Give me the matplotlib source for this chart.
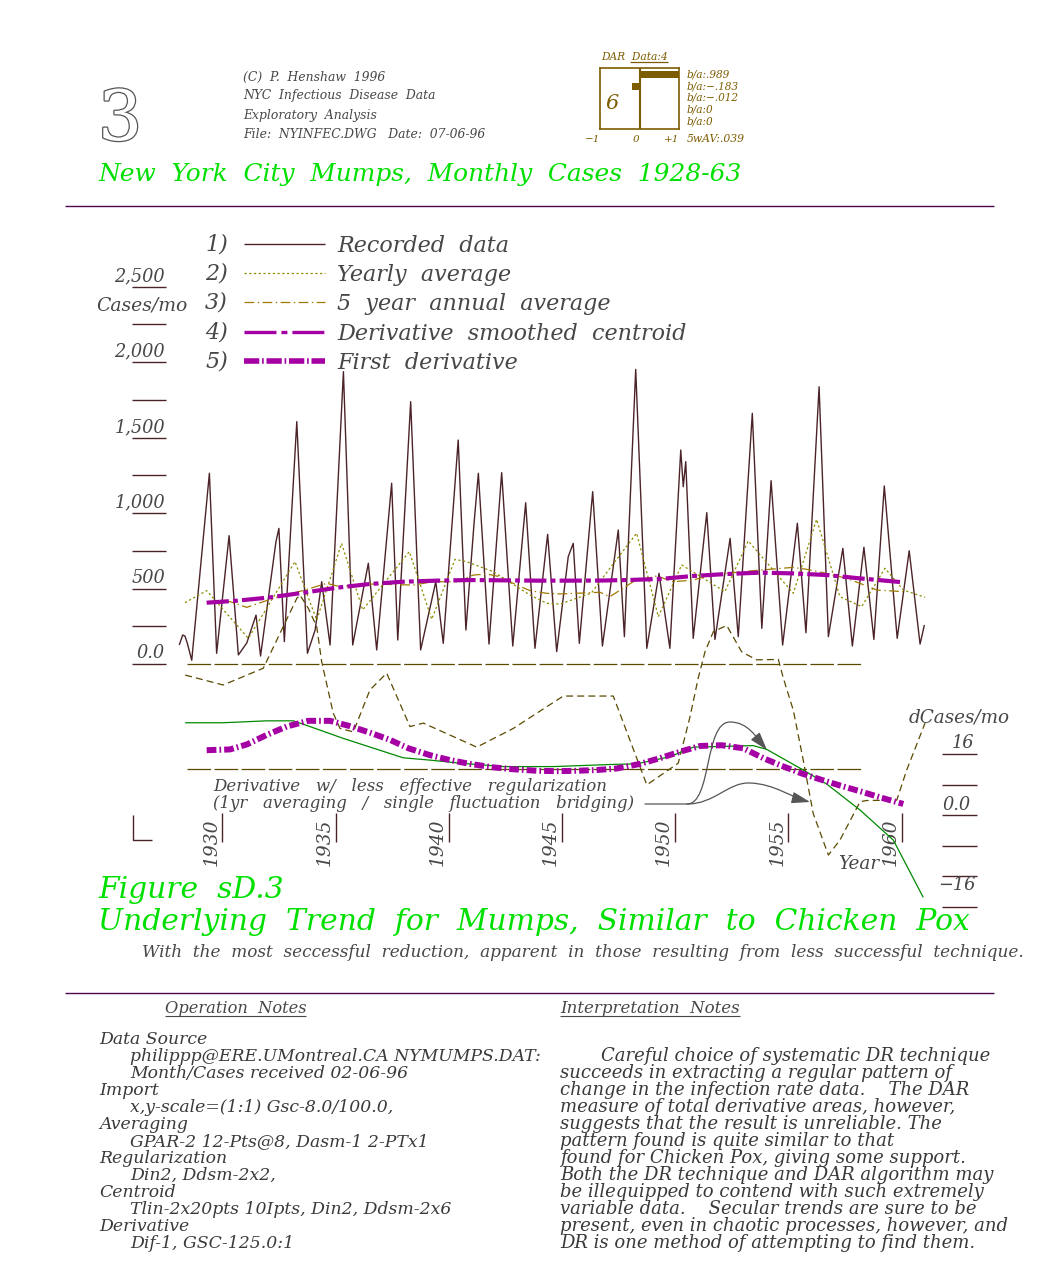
"""NYC mumps, monthly cases 1928-63: recorded series, yearly / 5-yr averages, smoothed
centroid and derivative curves, laid out like the CAD sheet (fig. sD.3, P. Henshaw 1996)."""
import matplotlib
matplotlib.use("Agg")
import matplotlib.pyplot as plt
import matplotlib.patheffects as pe
from matplotlib.patches import FancyArrowPatch
from matplotlib.path import Path
from matplotlib.transforms import Affine2D, blended_transform_factory, offset_copy

# ---- data --------------------------------------------------------------------------
# 1) recorded monthly cases: troughs, peaks and visible shoulders
rec_year = [1928.10, 1928.25, 1928.35, 1928.45, 1928.65, 1929.43, 1929.75, 1930.30, 1930.71,
            1931.08, 1931.49, 1931.69, 1932.37, 1932.50, 1932.74, 1933.29, 1933.76, 1934.10,
            1934.39, 1934.76, 1935.35, 1935.76, 1936.45, 1936.82, 1937.48, 1937.75, 1938.32,
            1938.76, 1939.43, 1939.76, 1940.42, 1940.76, 1941.12, 1941.31, 1941.78, 1942.34,
            1942.83, 1943.40, 1943.81, 1944.37, 1944.77, 1945.28, 1945.50, 1945.77, 1946.36,
            1946.79, 1947.49, 1947.76, 1948.26, 1948.75, 1949.29, 1949.77, 1950.25, 1950.36,
            1950.47, 1950.80, 1951.40, 1951.76, 1952.43, 1952.79, 1953.41, 1953.83, 1954.24,
            1954.75, 1955.40, 1955.78, 1956.36, 1956.77, 1957.41, 1957.83, 1958.34, 1958.78,
            1959.24, 1959.81, 1960.34, 1960.82, 1961.01]
rec_cases = [126, 192, 185, 140, 25, 1263, 71, 850, 60,
             139, 324, 53, 810, 898, 148, 1605, 71, 225,
             545, 126, 1936, 126, 667, 93, 1197, 159, 1737,
             93, 545, 137, 1483, 225, 932, 1263, 132, 1267,
             119, 1068, 104, 859, 82, 711, 799, 137, 1141,
             119, 887, 181, 1951, 104, 600, 104, 1417, 1174,
             1340, 170, 1002, 163, 832, 181, 1660, 236, 1214,
             126, 932, 207, 1836, 181, 766, 119, 773, 163,
             1179, 170, 750, 132, 258]

# 2) yearly average
yr_year = [1928.35, 1929.31, 1931.15, 1933.21, 1934.17, 1935.27, 1936.20, 1938.26, 1939.25,
           1940.28, 1940.79, 1941.97, 1943.59, 1944.33, 1944.92, 1946.30, 1947.25, 1948.30,
           1949.26, 1950.29, 1952.20, 1953.23, 1955.22, 1956.25, 1957.28, 1958.24, 1959.27,
           1960.08, 1961.04]
yr_cases = [406, 486, 170, 678, 291, 799, 358, 744, 296,
            693, 678, 611, 457, 402, 397, 470, 660, 866,
            313, 656, 479, 815, 468, 958, 446, 380, 634,
            490, 442]

# 3) 5 year annual average
fy_year = [1929.31, 1930.34, 1931.08, 1932.25, 1933.65, 1934.61, 1935.20, 1936.38, 1938.44,
           1939.32, 1940.35, 1941.09, 1941.68, 1942.27, 1942.85, 1943.59, 1944.33, 1944.92,
           1946.68, 1947.12, 1948.15, 1949.19, 1949.92, 1950.80, 1951.54, 1953.45, 1955.22,
           1955.81, 1956.70, 1957.58, 1958.17, 1958.91, 1960.08]
fy_cases = [413, 413, 375, 435, 490, 534, 512, 530, 523,
            545, 545, 589, 596, 578, 534, 486, 468, 464,
            475, 446, 545, 583, 545, 556, 589, 618, 640,
            627, 600, 567, 534, 490, 479]

# 4) derivative smoothed centroid
cen_year = [1929.31, 1930.64, 1932.10, 1933.58, 1935.05, 1936.52, 1938.00, 1939.47, 1940.94,
            1942.40, 1943.90, 1945.36, 1946.80, 1947.86, 1949.33, 1950.80, 1952.28, 1953.75,
            1955.22, 1956.70, 1958.17, 1960.08]
cen_cases = [406, 419, 441, 472, 505, 530, 545, 552, 556,
             554, 552, 552, 553, 556, 563, 583, 596, 605,
             600, 589, 567, 541]

# 5) first derivative (dCases/mo, right scale)
d1_year = [1929.31, 1930.34, 1931.08, 1931.96, 1932.84, 1933.80, 1934.76, 1935.64, 1936.52,
           1937.41, 1938.22, 1939.17, 1940.06, 1940.94, 1941.97, 1942.85, 1943.89, 1944.77,
           1945.65, 1946.54, 1947.42, 1948.45, 1949.33, 1950.22, 1951.10, 1952.06, 1953.01,
           1953.90, 1954.71, 1955.59, 1956.48, 1957.36, 1958.24, 1959.13, 1960.08]
d1_val = [17.0, 17.2, 18.5, 21.0, 23.2, 24.7, 24.7, 23.3, 21.6,
          19.7, 17.5, 15.7, 14.4, 13.4, 12.5, 12.0, 11.6, 11.5,
          11.6, 11.8, 12.2, 13.4, 14.9, 16.6, 18.1, 18.3, 17.5,
          14.9, 12.9, 10.9, 9.2, 7.6, 6.1, 4.5, 2.9]

# thin green derivative curve
dg_year = [1928.36, 1930.04, 1931.96, 1933.14, 1933.87, 1935.34, 1937.99, 1939.17, 1940.49,
           1942.41, 1944.62, 1947.42, 1948.30, 1949.77, 1950.80, 1953.45, 1954.05, 1955.66,
           1956.70, 1958.17, 1959.64, 1960.96]
dg_val = [24.2, 24.2, 24.7, 24.7, 23.2, 20.1, 15.0, 14.4, 13.6,
          12.7, 12.7, 13.3, 13.4, 15.3, 17.8, 18.2, 17.2, 11.8,
          8.1, 1.3, -6.6, -21.6]

# derivative with less effective regularization (1yr averaging)
dl_year = [1928.36, 1930.04, 1931.81, 1932.69, 1933.29, 1933.43, 1933.80, 1934.17, 1934.39,
           1934.90, 1935.20, 1935.79, 1936.52, 1937.26, 1938.29, 1938.88, 1941.24, 1942.85,
           1945.06, 1947.27, 1948.75, 1950.14, 1950.66, 1951.02, 1951.32, 1951.69, 1952.28,
           1952.94, 1953.60, 1954.56, 1954.78, 1955.22, 1955.66, 1956.10, 1956.77, 1957.28,
           1958.17, 1958.46, 1959.79, 1960.23, 1961.04]
dl_val = [36.7, 34.1, 38.5, 49.4, 56.8, 57.7, 54.2, 49.4, 40.2,
          26.7, 22.7, 21.8, 32.8, 37.2, 23.2, 24.1, 17.8, 22.7,
          31.2, 31.2, 7.9, 13.6, 25.8, 35.9, 42.8, 48.1, 49.7,
          42.8, 40.7, 40.8, 35.9, 27.5, 14.4, 0.4, -10.5, -6.6,
          3.5, 3.8, 3.9, 11.8, 24.1]

base_span = [1928.45, 1958.25]      # dashed zero lines
deriv_base = 12.07                  # dashed derivative zero line, right-scale units

case_ticks = [0, 250, 500, 750, 1000, 1250, 1500, 1750, 2000, 2250, 2500]
case_labels = {0: "0.0", 500: "500", 1000: "1,000", 1500: "1,500", 2000: "2,000", 2500: "2,500"}
d_ticks = [16, 8, 0, -8, -16, -24]
year_ticks = [1930, 1935, 1940, 1945, 1950, 1955, 1960]

dar_vals = [0.989, -0.183, -0.012, 0, 0]
dar_text = ["b/a:.989", "b/a:\u2212.183", "b/a:\u2212.012", "b/a:0", "b/a:0"]

# ---- styling -----------------------------------------------------------------------
plt.rcParams["font.family"] = "DejaVu Serif"
plt.rcParams["font.style"] = "italic"
plt.rcParams["lines.scale_dashes"] = False
plt.rcParams["lines.solid_capstyle"] = "butt"
plt.rcParams["lines.dash_capstyle"] = "butt"

C_REC, C_YR, C_5Y, C_PUR = "#4b2328", "#8c8c00", "#a07a00", "#a400a4"
C_GRN, C_OLV, C_TXT, C_GREEN = "#008a00", "#5a4a00", "#474747", "#00e000"
C_DAR, C_SEP, C_ARR = "#7d5c00", "#4e0a4e", "#555555"

ST_YR = (0, (1.6, 1.8))
ST_5Y = (0, (7, 2.5, 1, 2.5))
ST_CEN = (0, (16, 3, 3.5, 3))
ST_D1 = (0, (7, 2.2, 1.2, 2.2))
ST_DL = (0, (5, 3))
ST_BASE = (0, (17, 2.5))

W, H = 1059, 1280
fig = plt.figure(figsize=(W / 100, H / 100), dpi=100)
PX = Affine2D().scale(1 / W, -1 / H).translate(0, 1) + fig.transFigure   # sheet pixels
R = fig.canvas.get_renderer()

X1930, YRPX = 222.3, 22.64      # sheet pixel of 1930, px per year
Y0C, CPX = 664.0, 0.151         # sheet pixel of 0 cases, px per case
Y0D, DPX = 815.0, 3.8125        # sheet pixel of 0.0 dCases/mo, px per unit

xlim = (1930 - X1930 / YRPX, 1930 + (W - X1930) / YRPX)
ax = fig.add_axes([0, 0, 1, 1])
ax.set_xlim(xlim); ax.set_ylim((Y0C - H) / CPX, Y0C / CPX); ax.axis("off")
axd = fig.add_axes([0, 0, 1, 1])
axd.set_xlim(xlim); axd.set_ylim((Y0D - H) / DPX, Y0D / DPX); axd.axis("off")

x_px = blended_transform_factory(ax.transData, PX)     # x = year, y = sheet px
c_px = blended_transform_factory(PX, ax.transData)     # x = sheet px, y = cases
d_px = blended_transform_factory(PX, axd.transData)    # x = sheet px, y = dCases/mo


def T(x, y, s, size=10, color=C_TXT, width=None, **kw):
    kw.setdefault("va", "baseline")
    t = fig.text(x / W, 1 - y / H, s, fontsize=size, color=color, **kw)
    if width:
        t.set_fontsize(size * width / t.get_window_extent(R).width)
    return t


def fitsize(s, width, size=10):
    t = fig.text(0, 0, s, fontsize=size)
    w = t.get_window_extent(R).width
    t.remove()
    return size * width / w


# ---- series ------------------------------------------------------------------------
ax.plot(base_span, [0, 0], color=C_OLV, lw=0.9, ls=ST_BASE)
axd.plot(base_span, [deriv_base, deriv_base], color=C_OLV, lw=0.9, ls=ST_BASE)
ax.plot(rec_year, rec_cases, color=C_REC, lw=1.0)
ax.plot(yr_year, yr_cases, color=C_YR, lw=0.9, ls=ST_YR)
ax.plot(fy_year, fy_cases, color=C_5Y, lw=0.9, ls=ST_5Y)
axd.plot(dl_year, dl_val, color=C_OLV, lw=0.9, ls=ST_DL)
axd.plot(dg_year, dg_val, color=C_GRN, lw=0.9)
ax.plot(cen_year, cen_cases, color=C_PUR, lw=3.0, ls=ST_CEN)
axd.plot(d1_year, d1_val, color=C_PUR, lw=4.3, ls=ST_D1)

# ---- axes furniture ----------------------------------------------------------------
lab_up = offset_copy(c_px, fig=fig, y=5.5, units="dots")
s_ax = fitsize("1,000", 51)
for v in case_ticks:
    ax.plot([132, 166], [v, v], transform=c_px, color=C_REC, lw=1.0)
    if v in case_labels:
        ax.text(165, v, case_labels[v], transform=lab_up, ha="right", va="baseline",
                fontsize=s_ax, color=C_TXT)
T(96, 310, "Cases/mo", width=91)

d_up = offset_copy(d_px, fig=fig, y=5.5, units="dots")
d_dn = offset_copy(d_px, fig=fig, y=-14.5, units="dots")
for v in d_ticks:
    axd.plot([942, 977], [v, v], transform=d_px, color=C_REC, lw=1.0)
axd.text(974, 16, "16", transform=d_up, ha="right", va="baseline", fontsize=s_ax, color=C_TXT)
axd.text(971, 0, "0.0", transform=d_up, ha="right", va="baseline", fontsize=s_ax, color=C_TXT)
axd.text(975, -16, "\u221216", transform=d_dn, ha="right", va="baseline", fontsize=s_ax, color=C_TXT)
T(909, 723, "dCases/mo", width=101)

yr_lab = offset_copy(x_px, fig=fig, x=-11, units="dots")
for yr in year_ticks:
    ax.plot([yr, yr], [813, 842], transform=x_px, color=C_REC, lw=1.0)
    ax.text(yr, 842, str(yr), transform=yr_lab, rotation=90, ha="center", va="center",
            fontsize=s_ax * 1.05, color=C_TXT)
T(838, 869, "Year", width=41)
ax.plot([133, 133, 152], [815, 840, 840], transform=PX, color=C_REC, lw=1.0)

# ---- notes on the chart ------------------------------------------------------------
s_note = 9.6
T(213, 791, "Derivative   w/   less   effective   regularization", s_note, width=394)
T(213, 808.5, "(1yr   averaging   /   single   fluctuation   bridging)", s_note, width=424)

arr = "-|>,head_length=0.7,head_width=0.22"
p1 = Path([(645, 804), (687, 804), (712, 804), (704, 722), (730, 722), (748, 722), (756, 737), (767, 750)],
          [Path.MOVETO, Path.LINETO, Path.CURVE4, Path.CURVE4, Path.CURVE4, Path.CURVE4, Path.CURVE4, Path.CURVE4])
p2 = Path([(687, 804), (715, 804), (728, 782), (750, 783), (775, 784), (790, 797), (810, 802)],
          [Path.MOVETO, Path.CURVE4, Path.CURVE4, Path.CURVE4, Path.CURVE4, Path.CURVE4, Path.CURVE4])
for p in (p1, p2):
    fig.add_artist(FancyArrowPatch(path=p, arrowstyle=arr, mutation_scale=16, color=C_ARR,
                                   lw=0.9, transform=PX))

# ---- legend --------------------------------------------------------------------------
leg = [("Recorded  data", dict(color=C_REC, lw=1.0)),
       ("Yearly  average", dict(color=C_YR, lw=0.9, ls=ST_YR)),
       ("5  year  annual  average", dict(color=C_5Y, lw=0.9, ls=ST_5Y)),
       ("Derivative  smoothed  centroid", dict(color=C_PUR, lw=2.4, ls=(0, (23, 3.6, 4.3, 3.6)))),
       ("First  derivative", dict(color=C_PUR, lw=4.0, ls=(0, (11, 2, 1.2, 2))))]
s_leg = fitsize("Derivative  smoothed  centroid", 349)
for i, (lab, st) in enumerate(leg):
    yl = 243.5 + 29.4 * i
    ax.plot([244, 325], [yl, yl], transform=PX, **st)
    T(205, yl + 6.5, f"{i + 1})", s_leg)
    T(337, yl + 8, lab, s_leg)

# ---- header --------------------------------------------------------------------------
T(98, 140, "3", 50, color="white", style="normal",
  path_effects=[pe.withStroke(linewidth=1.8, foreground="#555555")])
s_head = fitsize("File:  NYINFEC.DWG   Date:  07-06-96", 244)
for yb, s in zip([80.7, 99.3, 119.3, 138.3],
                 ["(C)  P.  Henshaw  1996", "NYC  Infectious  Disease  Data",
                  "Exploratory  Analysis", "File:  NYINFEC.DWG   Date:  07-06-96"]):
    T(243, yb, s, s_head)
T(98, 181, "New  York  City  Mumps,  Monthly  Cases  1928-63", color=C_GREEN, width=642)

# DAR box
axb = fig.add_axes([600 / W, 1 - 129.3 / H, 79 / W, 61 / H])
axb.barh([0.5, 1.5, 2.5, 3.5, 4.5], dar_vals, height=0.55, color=C_DAR)
axb.axvline(0, color=C_DAR, lw=1.5)
axb.set_xlim(-1, 1); axb.set_ylim(5, 0)
axb.set_yticks([])
axb.set_xticks([-1, 0, 1], ["\u22121", "0", "+1"])
axb.tick_params(length=0, pad=4, labelsize=7.5, labelcolor=C_DAR)
for lbl in axb.get_xticklabels():
    lbl.set_horizontalalignment("right")
for sp in axb.spines.values():
    sp.set_color(C_DAR); sp.set_linewidth(1.2)
axb.text(0.07, 0.33, "6", transform=axb.transAxes, fontsize=15, color=C_DAR, va="baseline")
T(601.5, 60, "DAR  Data:4", 7, color=C_DAR, width=67)
ax.plot([630, 668], [62, 62], transform=PX, color=C_DAR, lw=0.9)
for i, s in enumerate(dar_text):
    T(687, 77.5 + 11.7 * i, s, 7.6, color=C_DAR)
T(687, 142, "5wAV:.039", 7.8, color=C_DAR)

# ---- separators, captions ------------------------------------------------------------
for ys in (206, 993):
    ax.plot([65, 994], [ys, ys], transform=PX, color=C_SEP, lw=1.0)
s_green = fitsize("Underlying  Trend  for  Mumps,  Similar  to  Chicken  Pox", 870)
T(98, 898, "Figure  sD.3", s_green, color=C_GREEN)
T(98, 930, "Underlying  Trend  for  Mumps,  Similar  to  Chicken  Pox", s_green, color=C_GREEN)
T(142, 957, "With  the  most  seccessful  reduction,  apparent  in  those  resulting  from  less  "
      "successful  technique.", width=880)

# ---- bottom notes --------------------------------------------------------------------
left_notes = [("Data Source", 0), ("philippp@ERE.UMontreal.CA NYMUMPS.DAT:", 1),
              ("Month/Cases received 02-06-96", 1), ("Import", 0),
              ("x,y-scale=(1:1) Gsc-8.0/100.0,", 1), ("Averaging", 0),
              ("GPAR-2 12-Pts@8, Dasm-1 2-PTx1", 1), ("Regularization", 0),
              ("Din2, Ddsm-2x2,", 1), ("Centroid", 0),
              ("Tlin-2x20pts 10Ipts, Din2, Ddsm-2x6", 1), ("Derivative", 0),
              ("Dif-1, GSC-125.0:1", 1)]
right_notes = ["Careful choice of systematic DR technique",
               "succeeds in extracting a regular pattern of",
               "change in the infection rate data.    The DAR",
               "measure of total derivative areas, however,",
               "suggests that the result is unreliable. The",
               "pattern found is quite similar to that",
               "found for Chicken Pox, giving some support.",
               "Both the DR technique and DAR algorithm may",
               "be illequipped to contend with such extremely",
               "variable data.    Secular trends are sure to be",
               "present, even in chaotic processes, however, and",
               "DR is one method of attempting to find them."]
s_bot = fitsize("present, even in chaotic processes, however, and", 448)
s_left = (fitsize("Tlin-2x20pts 10Ipts, Din2, Ddsm-2x6", 342)
          + fitsize("philippp@ERE.UMontreal.CA NYMUMPS.DAT:", 382)) / 2
T(165, 1013, "Operation  Notes", s_bot, width=141)
T(560, 1013, "Interpretation  Notes", s_bot, width=180)
ax.plot([165, 306], [1016, 1016], transform=PX, color=C_TXT, lw=0.8)
ax.plot([560, 740], [1016, 1016], transform=PX, color=C_TXT, lw=0.8)
for i, (s, ind) in enumerate(left_notes):
    T(99 + 31 * ind, 1043.5 + 17.08 * i, s, s_left, color="#3a3a3a")
for i, s in enumerate(right_notes):
    T(601 if i == 0 else 560, 1060.6 + 17.08 * i, s, s_bot, color="#3a3a3a")

fig.savefig("out.png", dpi=100)
